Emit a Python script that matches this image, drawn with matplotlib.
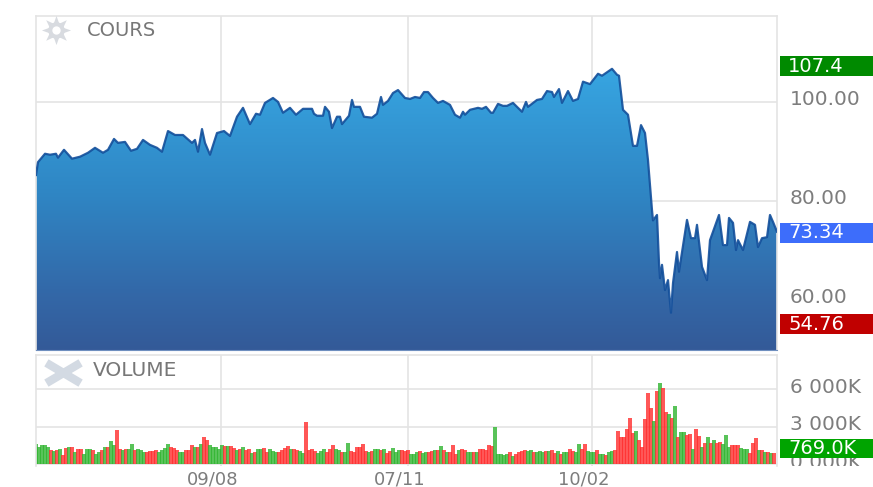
import numpy as np
import matplotlib
matplotlib.use("Agg")
import matplotlib.pyplot as plt
from matplotlib.colors import LinearSegmentedColormap
from matplotlib.patches import Polygon, Rectangle
from matplotlib.lines import Line2D
from matplotlib.transforms import ScaledTranslation

# ---- data ----
price_days = [0,1,4.5,7,10,11,14,18,22,26,29.5,33.5,36,39,41,44.5,47.5,50.5,53.5,57,60.5,63,66,69.5,73.5,78,79.5,81,83,84.5,87,
    90.5,94,97,100.5,103.5,107,110,112,114.5,118.5,121,123.5,127,130,133.5,138,139,140.5,143.5,144.5,146.5,148,150.5,152,153,156.5,158,159,162,164,168,170.5,172.5,173.5,176,178.5,181,184.5,187,189.5,192,
    194,196,198.5,201,203.5,207,209.5,212,213.5,214.5,217,221,223,225,227.5,228.5,231,233.5,235.5,238.5,243,245,246,250.5,253,255.5,258,259,261.5,263,266,268.5,271,273.5,277,281,283,288,290.5,291.5,
    293.5,296,298.5,300.5,302.5,304.5,306,308,308.5,310.5,311.5,312,313,314.5,316,317.5,318.5,320.5,321.5,325.5,327.5,329.5,330.5,333,335.5,337,341.5,343.5,345.5,346.5,348.5,350,351,353.5,357,359.5,361,363,365.5,367,368.5,370.5]
price_vals = [85.2,87.8,89.5,89.3,89.5,88.7,90.3,88.5,88.9,89.7,90.7,89.7,90.3,92.5,91.7,91.9,90.1,90.5,92.3,91.3,90.7,89.9,94.1,93.3,93.3,91.7,92.3,89.9,94.5,91.7,89.3,
    93.7,94.1,93.1,97.0,98.8,95.5,97.6,97.4,99.8,100.8,100,97.8,98.8,97.4,98.6,98.6,97.6,97.2,97.2,99.0,98.0,94.7,97.0,97,95.5,97.2,100.4,99,99,97,96.8,97.6,101,99.4,100.2,101.8,102.4,100.8,100.6,101,100.8,
    102,102,100.8,99.8,100.2,99.4,97.4,96.8,98,97.4,98.4,98.8,98.6,99,97.8,97.8,99.6,99.2,99.2,99.8,98,100,99,100.4,100.6,102.2,102,101,102.6,99.8,102.2,100.2,100.6,104.1,103.6,105.7,105.3,106.7,105.5,105.3,
    98.4,97.4,91.1,91.1,95.3,93.7,88.2,78.1,76,77.1,67.4,64.3,67,61.9,63.9,57.3,63.3,69.6,65.6,76.1,72.4,72.4,75.1,66.6,63.9,72,77.1,71,71,76.5,75.5,70,72,70,75.7,75.1,70.6,72.4,72.6,77.1,75.7,73.7]

volumes = [1650,1400,1550,1500,1350,1150,1050,1150,1200,700,
    1300,1350,1350,1000,1250,1200,800,1250,1200,1150,
    800,1000,1100,1400,1350,1850,1500,2750,1250,1150,
    1250,1250,1600,1150,1200,1100,1000,950,1050,1050,
    1100,950,1150,1300,1600,1350,1300,1150,1000,1000,
    1150,1150,1500,1350,1400,1600,2150,1950,1550,1400,
    1350,1250,1500,1450,1450,1450,1300,1100,1250,1350,
    1150,1250,900,1000,1200,1250,1300,1000,1250,1050,
    1000,950,1150,1300,1450,1250,1200,1100,1050,900,
    3350,1100,1250,1050,900,1050,1250,950,1200,1500,
    1200,1150,1000,1000,1700,1050,950,1350,1400,1650,
    1050,1000,1050,1200,1200,1150,1200,900,1050,1300,
    950,1100,1100,1050,1150,800,850,1000,1050,900,
    1000,1000,1050,1100,1150,1450,1100,1000,950,1500,
    800,1150,1200,1150,950,1000,1000,1000,1200,1250,
    1100,1500,1450,2950,800,800,750,850,1000,650,
    800,1000,1050,1100,1050,1150,1000,1000,1050,950,
    1050,1050,1100,900,1050,850,1000,1000,1200,1050,
    1000,1650,1200,1650,1050,950,950,1100,850,800,
    750,1000,1050,1150,2650,2200,2150,2800,3700,2500,
    2700,1900,1400,3600,5700,4500,3500,5900,6550,6150,
    4200,4000,3700,4700,2200,2600,2550,2350,2400,1250,
    2800,2300,1400,1700,2200,1700,1900,1700,1750,1600,
    2350,1350,1500,1550,1550,1300,1250,1200,900,1700,
    2100,1100,1100,1000,950,900,900]
directions = ("gggggrgrgr" "rgrgrrgggr" "ggrgrggrrg" "rggrgggrrr" "rggggrrrgg"
    "rrrgrgrrgg" "gggrgrrgrg" "rrgrggrrgg" "grrrrgrrgg" "rrrrgggrrr"
    "ggrggrrrrr" "rgrggrgrrg" "ggrrrgggrg" "grrgrgrgrr" "rgrrggrgrr"
    "rrrgggggrg" "rrrrggrggg" "rgrrgrggrr" "ggrrgggrgg" "rggrrrrrrr"
    "grrrrrgrgr" "rgrgrggrrg" "rrgrgrgrrg" "ggrrrgggrr" "rgrgrgr")

date_ticks = [92.5, 186, 278]
date_labels = ["09/08", "07/11", "10/02"]
price_ticks = [60, 80, 100]
price_labels = ["60.00", "80.00", "100.00"]
vol_ticks = [0, 3000, 6000]
vol_labels = ["0 000K", "3 000K", "6 000K"]
price_tags = [("107.4", 66, "#008a00"), ("73.34", 233, "#3d6dfb"), ("54.76", 324, "#c00000")]
volume_tag = ("769.0K", 448, "#00a400")

# ---- layout ----
W, H = 873, 487
GRID = "#e4e4e4"
TXT = "#7d7d7d"
fig = plt.figure(figsize=(W / 100, H / 100), dpi=100)
plt.rcParams["font.family"] = "DejaVu Sans"

def axes_px(x0, y0, x1, y1):
    return fig.add_axes([x0 / W, 1 - y1 / H, (x1 - x0) / W, (y1 - y0) / H])

def shift(dx, dy):
    return ScaledTranslation(dx / 100, -dy / 100, fig.dpi_scale_trans)

ax = axes_px(36, 16, 777, 350)
vx = axes_px(36, 355, 777, 466)
XMAX = 370.5

# price panel
ax.set_xlim(0, XMAX)
ax.set_ylim(49.75, 117.4)
ax.set_xticks(date_ticks, [""] * 3)
ax.set_yticks(price_ticks, price_labels)
ax.grid(True, color=GRID, lw=1.2, zorder=0)
ax.set_axisbelow(True)
ax.yaxis.tick_right()
ax.tick_params(length=0, labelsize=14.5, labelcolor=TXT, pad=9)
for lab in ax.get_yticklabels():
    lab.set_transform(lab.get_transform() + shift(0, -4))
for s in ["left", "right", "top"]:
    ax.spines[s].set_color(GRID)
    ax.spines[s].set_linewidth(1.2)
ax.spines["bottom"].set_color("#6f8fbf")

cmap = LinearSegmentedColormap.from_list(
    "f", [(0, "#37a6e2"), (.45, "#2f86c4"), (.8, "#3368a8"), (1, "#345a98")])
grad = np.linspace(0, 1, 256).reshape(-1, 1)
im = ax.imshow(grad, cmap=cmap, extent=[0, XMAX, 49.75, 107.4], aspect="auto",
               origin="upper", zorder=1)
poly = Polygon(list(zip(price_days, price_vals)) + [(XMAX, 49.75), (0, 49.75)],
               closed=True, transform=ax.transData, fc="none", ec="none")
ax.add_patch(poly)
im.set_clip_path(poly)
ax.set_xlim(0, XMAX)
ax.set_ylim(49.75, 117.4)
ax.plot(price_days, price_vals, color="#134f9b", lw=1.6, zorder=3, alpha=.9)

# volume panel
vol_days = np.arange(len(volumes)) * 1.5
colors = ["#2fb52f" if d == "g" else "#ff2d2d" for d in directions]
vx.bar(vol_days, volumes, width=1.7, color=colors, alpha=.8, zorder=2, linewidth=0)
vx.set_xlim(0, XMAX)
vx.set_ylim(-150, 8770)
vx.set_xticks(date_ticks, date_labels)
vx.set_yticks(vol_ticks, vol_labels)
vx.grid(True, color=GRID, lw=1.2, zorder=0)
vx.set_axisbelow(True)
vx.yaxis.tick_right()
vx.tick_params(length=0, labelsize=14.5, labelcolor=TXT, pad=9)
vx.tick_params(axis="x", labelsize=13, pad=3)
for lab in vx.get_xticklabels():
    lab.set_transform(lab.get_transform() + shift(-8, 0))
for lab in vx.get_yticklabels():
    lab.set_transform(lab.get_transform() + shift(0, -4))
for s in ["left", "right", "top"]:
    vx.spines[s].set_color(GRID)
    vx.spines[s].set_linewidth(1.2)
vx.spines["bottom"].set_visible(False)

# mask the lower part of the zero label, as in the reference
fig.add_artist(Rectangle((778 / W, 1 - 472 / H), 95 / W, 6 / H, transform=fig.transFigure,
                         fc="white", ec="none", zorder=5))

def tag(text, yc, color, h=20):
    fig.add_artist(Rectangle((780 / W, 1 - (yc + h / 2) / H), 93 / W, h / H,
                             transform=fig.transFigure, fc=color, ec="none", zorder=6))
    fig.text(788 / W, 1 - yc / H, text, color="white", fontsize=14, ha="left",
             va="center", zorder=7)

for t, y, c in price_tags:
    tag(t, y, c)
tag(volume_tag[0], volume_tag[1], volume_tag[2], h=19)

# panel captions and icons
fig.text(87 / W, 1 - 30 / H, "COURS", color="#777777", fontsize=14, va="center", ha="left")
fig.text(93 / W, 1 - 371 / H, "VOLUME", color="#777777", fontsize=14.5, va="center", ha="left")
fig.add_artist(Line2D([56 / W], [1 - 29.5 / H], marker=(8, 1, 0), ms=21, color="#d8dbe0",
                      mew=0, transform=fig.transFigure, zorder=6))
fig.add_artist(Line2D([56 / W], [1 - 29.5 / H], marker="o", ms=12, color="#d8dbe0",
                      mew=0, transform=fig.transFigure, zorder=6))
fig.add_artist(Line2D([56 / W], [1 - 29.5 / H], marker="o", ms=6, color="white",
                      mew=0, transform=fig.transFigure, zorder=7))
for ya, yb in [(365, 381), (381, 365)]:
    fig.add_artist(Line2D([50 / W, 77 / W], [1 - ya / H, 1 - yb / H], lw=6, color="#d3dae3",
                          transform=fig.transFigure, zorder=6))

fig.savefig("out.png", dpi=100)
